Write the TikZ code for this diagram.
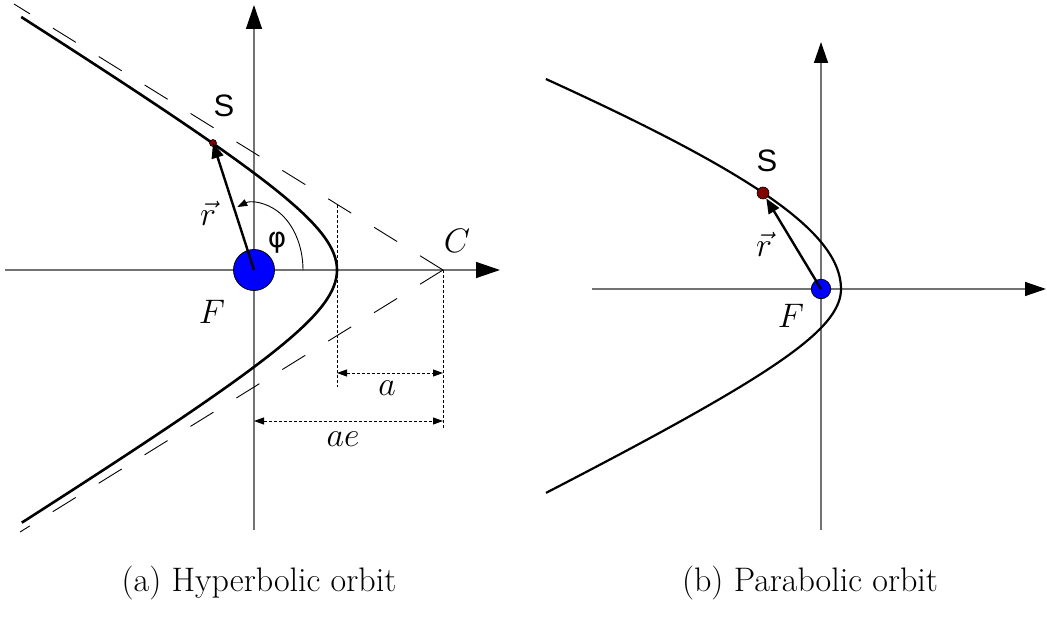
\RequirePackage{fix-cm}
\documentclass[tikz,border=0pt]{standalone}
\usepackage{fontspec}
\newfontfamily\sansA{Liberation Sans}
\newfontfamily\sansD{DejaVu Sans}
\usetikzlibrary{arrows.meta}
\begin{document}
\begin{tikzpicture}[x=1pt,y=-1pt,
  lab/.style={font=\fontsize{34}{40}\selectfont, inner sep=0pt},
  slab/.style={font=\sansA\fontsize{31}{37}\selectfont, inner sep=0pt},
  plab/.style={font=\sansD\fontsize{28}{34}\selectfont, inner sep=0pt},
  axis/.style={draw=black!55, line width=1.4pt},
  axtipA/.style={-{Triangle[length=24pt,width=16pt,color=black]}},
  axtipB/.style={-{Triangle[length=21pt,width=14pt,color=black]}},
  orbit/.style={draw=black, line width=2.6pt},
  orbitB/.style={draw=black, line width=2.2pt},
  asym/.style={draw=black, line width=0.9pt, dash pattern=on 27pt off 27pt},
  dotln/.style={draw=black, line width=0.9pt, dash pattern=on 3pt off 2pt},
  dimarr/.style={dotln, {Triangle[length=10pt,width=7pt]}-{Triangle[length=10pt,width=7pt]}},
  vecarr/.style={draw=black, line width=2.4pt, -{Triangle[length=15pt,width=12pt]}},
  focus/.style={circle, fill=blue, draw=black, line width=0.8pt, inner sep=0pt},
  body/.style={circle, fill=red!50!black, draw=black, line width=0.6pt, inner sep=0pt}
]
\useasboundingbox (0,0) rectangle (1047,620);

% ---------- (a) hyperbolic ----------
\coordinate (HxL) at (5,270);
\coordinate (HxR) at (500,270);
\coordinate (HyB) at (254,530);
\coordinate (HyT) at (254,5);
\draw[axis, axtipA] (HxL) -- (HxR);
\draw[axis, axtipA] (HyB) -- (HyT);

\coordinate (C) at (443,270);
\coordinate (AsU) at (14,4);
\coordinate (AsL) at (20,532);
\draw[asym] (C) -- (AsU);
\draw[asym] (C) -- (AsL);

\coordinate (VdT) at (337,205);
\coordinate (VdB) at (337,387);
\coordinate (CdB) at (443,428);
\draw[dotln] (VdT) -- (VdB);
\draw[dotln] (C) -- (CdB);
\coordinate (Aa1) at (337,373);
\coordinate (Aa2) at (443,373);
\coordinate (Ae1) at (254,421);
\coordinate (Ae2) at (443,421);
\draw[dimarr] (Aa1) -- (Aa2);
\draw[dimarr] (Ae1) -- (Ae2);

\draw[orbit] plot[domain=-2.058:2.058, samples=120, variable=\t]
  ({443-106*cosh(\t)},{270+65.7*sinh(\t)});

\coordinate (ArcS) at (303,270);
\draw[draw=black, line width=0.9pt, -{Triangle[length=10pt,width=7pt]}]
  (ArcS) arc[start angle=0, end angle=-110, x radius=49, y radius=67];

\node[focus, minimum size=41pt] (F1) at (254,270) {};
\node[body, minimum size=7pt] (S1) at (213,143) {};
\draw[vecarr] (F1.center) -- (S1.center);

\node[slab] (lS1) at (224,106) {S};
\node[lab] (lr1) at (208,213) {$\vec{r}$};
\node[plab] (lphi) at (277,243) {φ};
\node[lab] (lF1) at (212,312) {$F$};
\node[lab] (lC) at (457,241) {$C$};
\node[lab] (la) at (387,388) {$a$};
\node[lab] (lae) at (343,439) {$ae$};

% ---------- (b) parabolic ----------
\coordinate (PxL) at (592,289);
\coordinate (PxR) at (1046,289);
\coordinate (PyB) at (821,530);
\coordinate (PyT) at (821,42);
\draw[axis, axtipB] (PxL) -- (PxR);
\draw[axis, axtipB] (PyB) -- (PyT);

\draw[orbitB] plot[domain=-1.1772:0, samples=60, variable=\s]
  ({1221-380*cosh(\s)},{289+143*sinh(\s)})
  -- plot[domain=0:1.7513, samples=70, variable=\s]
  ({991-150*cosh(\s)},{289+73*sinh(\s)});

\node[focus, minimum size=19.5pt] (F2) at (821,289) {};
\node[body, minimum size=12pt] (S2) at (763,193) {};
\draw[vecarr] (F2.center) -- (S2);

\node[slab] (lS2) at (767,161) {S};
\node[lab] (lr2) at (764,244) {$\vec{r}$};
\node[lab] (lF2) at (791,316) {$F$};

% ---------- captions ----------
\node[lab] (capA) at (259,583) {(a) Hyperbolic orbit};
\node[lab] (capB) at (810,583) {(b) Parabolic orbit};
\end{tikzpicture}
\end{document}
